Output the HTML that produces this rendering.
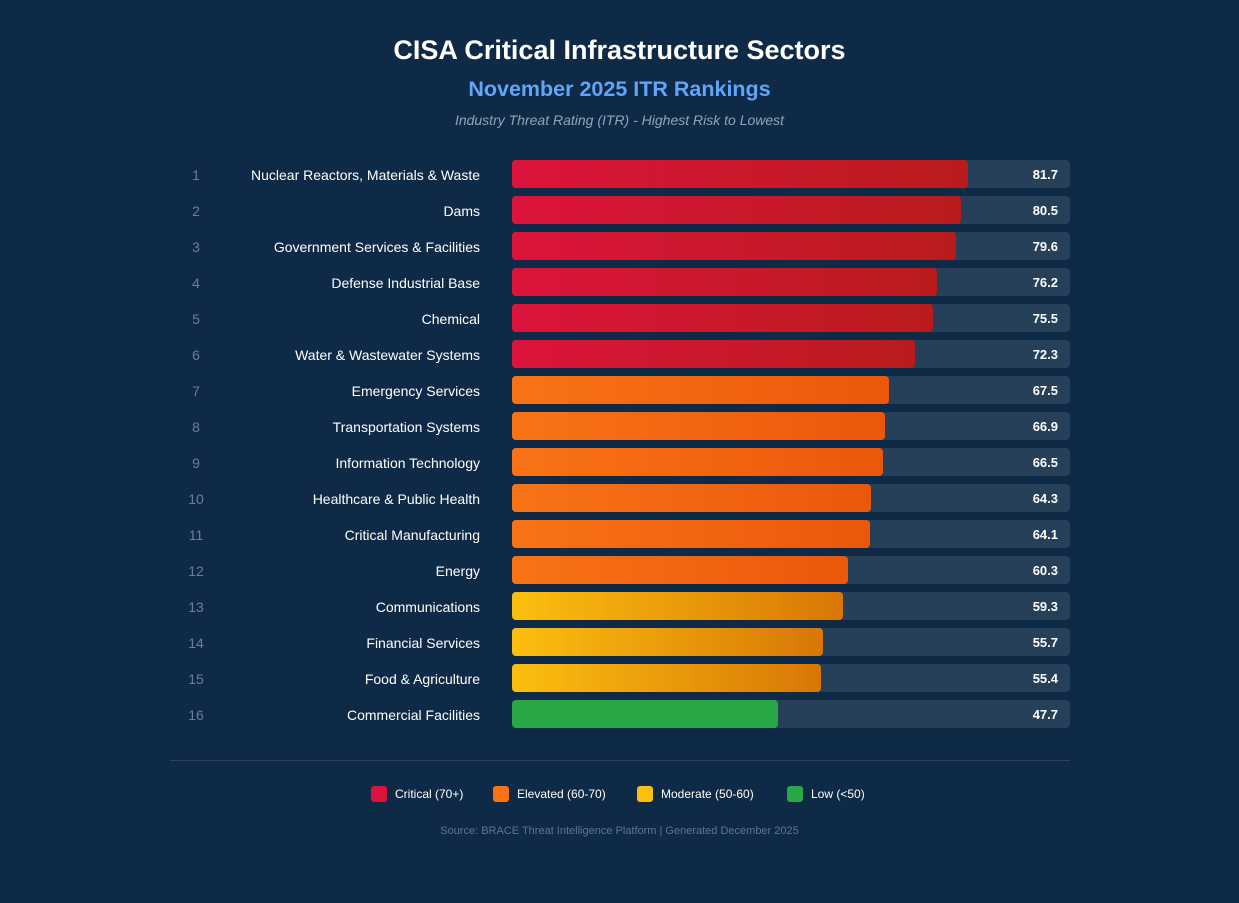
<!DOCTYPE html>
<html><head><meta charset="utf-8"><style>
body{margin:0;width:1239px;height:903px;background:#0f2a46;font-family:"Liberation Sans",sans-serif;position:relative;overflow:hidden}
.t{position:absolute;left:0;width:1239px;text-align:center}
.row{position:absolute;left:170px;width:900px;height:28px}
.rk{position:absolute;left:0;top:1px;width:52px;text-align:center;color:#6b7f99;font-size:14px;line-height:28px}
.lb{position:absolute;right:590px;top:1px;color:#fff;font-size:14px;line-height:28px;white-space:nowrap}
.tr{position:absolute;left:342px;width:558px;height:28px;background:#27405a;border-radius:4px}
.bar{position:absolute;left:0;top:0;height:28px;border-radius:4px}
.val{position:absolute;right:12px;top:1px;color:#fff;font-weight:bold;font-size:13px;line-height:28px}
.lg{position:absolute;top:786px;display:flex;align-items:center;color:#fff;font-size:12px}
.sw{width:16px;height:16px;border-radius:3px;margin-right:8px}
</style></head><body>
<div class="t" style="top:35px;font-size:27px;font-weight:bold;color:#fff">CISA Critical Infrastructure Sectors</div>
<div class="t" style="top:77px;font-size:21.5px;font-weight:bold;color:#60a5fa">November 2025 ITR Rankings</div>
<div class="t" style="top:112px;font-size:14px;font-style:italic;color:#94a3b8">Industry Threat Rating (ITR) - Highest Risk to Lowest</div>
<div id="rows"></div>
<div style="position:absolute;left:170px;top:760px;width:900px;height:1px;background:#2a4460"></div>
<div class="lg" style="left:371px"><div class="sw" style="background:#dc143c"></div>Critical (70+)</div>
<div class="lg" style="left:493px"><div class="sw" style="background:#f97316"></div>Elevated (60-70)</div>
<div class="lg" style="left:637px"><div class="sw" style="background:#fbbf0f"></div>Moderate (50-60)</div>
<div class="lg" style="left:787px"><div class="sw" style="background:#28a745"></div>Low (&lt;50)</div>
<div class="t" style="top:825px;font-size:11px;color:#5f7590">Source: BRACE Threat Intelligence Platform | Generated December 2025</div>
<script>
const sectors=["Nuclear Reactors, Materials & Waste","Dams","Government Services & Facilities","Defense Industrial Base","Chemical","Water & Wastewater Systems","Emergency Services","Transportation Systems","Information Technology","Healthcare & Public Health","Critical Manufacturing","Energy","Communications","Financial Services","Food & Agriculture","Commercial Facilities"];
const scores=[81.7,80.5,79.6,76.2,75.5,72.3,67.5,66.9,66.5,64.3,64.1,60.3,59.3,55.7,55.4,47.7];
const maxScore=100;
function xw(v){return v/maxScore*558;}
function color(v){if(v>=70)return"linear-gradient(90deg,#dc143c,#b91c1c)";if(v>=60)return"linear-gradient(90deg,#f97316,#ea580c)";if(v>=50)return"linear-gradient(90deg,#fbbf0f,#d97706)";return"#28a745";}
const root=document.getElementById('rows');
sectors.forEach((s,i)=>{
const r=document.createElement('div');r.className='row';r.style.top=(160+i*36)+'px';


r.innerHTML='<div class="rk">'+(i+1)+'</div><div class="lb"></div><div class="tr"><div class="bar"></div><div class="val"></div></div>';
r.querySelector('.lb').textContent=s;
const b=r.querySelector('.bar');b.style.width=xw(scores[i])+'px';b.style.background=color(scores[i]);


r.querySelector('.val').textContent=scores[i].toFixed(1);
root.appendChild(r);});
</script>
</body></html>
